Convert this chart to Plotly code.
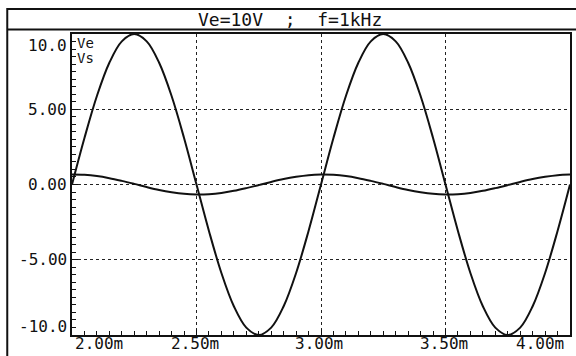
import plotly.graph_objects as go

# time axis in ms (read at 0.05 ms steps)
t_ms = [round(2.0 + 0.05 * k, 2) for k in range(41)]

ve = [0.0, 3.09, 5.88, 8.09, 9.51, 10.0, 9.51, 8.09, 5.88, 3.09,
      0.0, -3.09, -5.88, -8.09, -9.51, -10.0, -9.51, -8.09, -5.88, -3.09,
      0.0, 3.09, 5.88, 8.09, 9.51, 10.0, 9.51, 8.09, 5.88, 3.09,
      0.0, -3.09, -5.88, -8.09, -9.51, -10.0, -9.51, -8.09, -5.88, -3.09,
      0.0]

vs = [0.66, 0.64, 0.56, 0.42, 0.24, 0.04, -0.17, -0.36, -0.51, -0.62,
      -0.66, -0.64, -0.56, -0.42, -0.24, -0.04, 0.17, 0.36, 0.51, 0.62,
      0.66, 0.64, 0.56, 0.42, 0.24, 0.04, -0.17, -0.36, -0.51, -0.62,
      -0.66, -0.64, -0.56, -0.42, -0.24, -0.04, 0.17, 0.36, 0.51, 0.62,
      0.66]

y_tickvals = [10, 5, 0, -5, -10]
y_ticktext = ["10.0", "5.00", "0.00", "-5.00", "-10.0"]
x_tickvals = [2.0, 2.5, 3.0, 3.5, 4.0]
x_ticktext = ["2.00m", "2.50m", "3.00m", "3.50m", "4.00m"]
title_text = "Ve=10V  ;  f=1kHz"
series_names = ["Ve", "Vs"]

FONT = "DejaVu Sans Mono"
W, H = 576, 356
L, R, T, B = 72, 4, 33.5, 20.5
pw, ph = W - L - R, H - T - B


def px_x(px):
    return (px - L) / pw


def px_y(py):
    return (H - B - py) / ph


fig = go.Figure()
for name, vals in zip(series_names, [ve, vs]):
    fig.add_trace(go.Scatter(
        x=t_ms, y=vals, mode="lines", name=name,
        line=dict(color="#111111", width=2, shape="spline", smoothing=1.0),
        showlegend=False, hoverinfo="skip"))

axis_common = dict(
    showline=True, linecolor="#111111", linewidth=2, mirror=True,
    showgrid=True, gridcolor="#222222", gridwidth=1.3, griddash="dot",
    zeroline=False, ticks="inside", ticklen=6, tickwidth=1.3,
    tickcolor="#111111", showticklabels=False,
)

fig.update_xaxes(
    range=[2.0, 4.0], tickvals=x_tickvals,
    minor=dict(dtick=0.05, tick0=2.0, ticks="inside", ticklen=4,
               tickwidth=1.3, tickcolor="#111111", showgrid=False),
    **axis_common)
fig.update_yaxes(
    range=[-10, 10], tickvals=y_tickvals,
    minor=dict(dtick=0.5, tick0=0, ticks="inside", ticklen=4,
               tickwidth=1.3, tickcolor="#111111", showgrid=False),
    **axis_common)

annotations = []
# x tick labels
for v, txt in zip(x_tickvals, x_ticktext):
    if v == x_tickvals[0]:
        anchor, shift = "left", 1
    elif v == x_tickvals[-1]:
        anchor, shift = "right", -4
    else:
        anchor, shift = "center", -2
    annotations.append(dict(
        x=v, xref="x", y=px_y(344), yref="paper", text=txt,
        xanchor=anchor, yanchor="middle", xshift=shift, showarrow=False,
        font=dict(family=FONT, size=16, color="#111111")))

# y tick labels (end labels are set inward, as in the reference)
for v, txt in zip(y_tickvals, y_ticktext):
    shift = -11 if v == y_tickvals[0] else (9 if v == y_tickvals[-1] else 0)
    annotations.append(dict(
        x=px_x(69), xref="paper", y=v, yref="y", text=txt,
        xanchor="right", yanchor="middle", yshift=shift, showarrow=False,
        font=dict(family=FONT, size=16, color="#111111")))

# legend labels
for i, name in enumerate(series_names):
    annotations.append(dict(
        x=px_x(75), xref="paper", y=px_y(43 + 15 * i), yref="paper",
        text=name, xanchor="left", yanchor="middle", showarrow=False,
        font=dict(family=FONT, size=14, color="#111111")))

# title
annotations.append(dict(
    x=px_x(291), xref="paper", y=px_y(18.5), yref="paper",
    text=title_text, xanchor="center", yanchor="middle", showarrow=False,
    font=dict(family=FONT, size=18, color="#111111")))

shapes = [
    # outer frame
    dict(type="rect", xref="paper", yref="paper",
         x0=px_x(7), x1=px_x(590), y0=px_y(370), y1=px_y(8.5),
         line=dict(color="#111111", width=2)),
    # title band separator
    dict(type="line", xref="paper", yref="paper",
         x0=px_x(7), x1=px_x(590), y0=px_y(29), y1=px_y(29),
         line=dict(color="#111111", width=2)),
]

fig.update_layout(
    width=W, height=H,
    margin=dict(l=L, r=R, t=T, b=B, pad=0),
    paper_bgcolor="white", plot_bgcolor="white",
    annotations=annotations, shapes=shapes,
)

fig.write_html("out.html")
